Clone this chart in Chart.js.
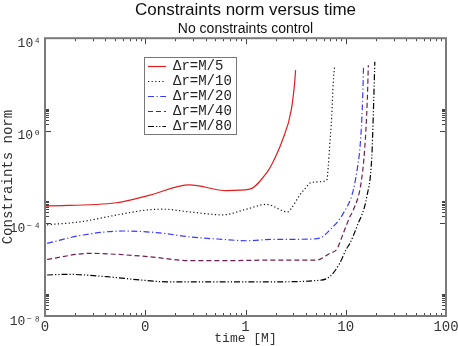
<!DOCTYPE html>
<html><head><meta charset="utf-8">
<script src="https://cdn.jsdelivr.net/npm/chart.js@4/dist/chart.umd.min.js"></script>
<style>html,body{margin:0;padding:0;background:#fff}#wrap{width:458px;height:346px}</style>
</head><body><div id="wrap"><canvas id="c" width="458" height="346"></canvas></div>
<script>
const seriesLabels = ['\u0394r=M/5','\u0394r=M/10','\u0394r=M/20','\u0394r=M/40','\u0394r=M/80'];

const tM5 = [0.0102, 0.0513, 0.111, 0.275, 0.646, 1.10, 1.62, 1.86, 2.34, 2.86, 3.09, 3.16];
const vM5 = [5.6e-4, 7.8e-4, 1.66e-3, 4.6e-3, 2.6e-3, 3.0e-3, 1.5e-2, 4.1e-2, 0.40, 7.8, 115, 417];

const tM10 = [0.0105, 0.0224, 0.0519, 0.1035, 0.151, 0.282, 0.596, 1.02, 1.62, 2.63, 2.87, 3.47, 4.07, 4.37, 5.50, 6.46, 6.70, 6.90, 7.24, 7.50, 7.76];
const vM10 = [8.7e-5, 1.17e-4, 2.3e-4, 3.8e-4, 4.1e-4, 3.1e-4, 2.34e-4, 4.1e-4, 6.6e-4, 3.16e-4, 4.5e-4, 1.66e-3, 3.8e-3, 5.5e-3, 6.3e-3, 7.4e-3, 0.03, 0.2, 4.0, 115, 676];

const tM20 = [0.0105, 0.024, 0.060, 0.130, 0.282, 0.596, 1.02, 1.88, 2.75, 4.37, 5.5, 6.92, 9.44, 11.9, 13.3, 13.8, 14.5, 14.9, 15.05];
const vM20 = [1.38e-5, 3.16e-5, 4.7e-5, 4.0e-5, 2.6e-5, 2.04e-5, 1.78e-5, 2.04e-5, 2.04e-5, 2.1e-5, 2.3e-5, 5.1e-5, 2.7e-4, 2.75e-3, 4.1e-2, 0.15, 4.0, 115, 676];

const tM40 = [0.0105, 0.0282, 0.052, 0.112, 0.282, 0.596, 1.88, 5.13, 6.92, 8.13, 9.44, 11.0, 11.9, 14.2, 15.5, 16.4, 16.8];
const vM40 = [2.8e-6, 5.1e-6, 4.6e-6, 3.6e-6, 2.45e-6, 2.45e-6, 2.6e-6, 2.6e-6, 5.1e-6, 7.6e-6, 3.7e-5, 1.95e-4, 3.8e-4, 5.4e-3, 0.2, 21, 676];

const tM80 = [0.0105, 0.0166, 0.0412, 0.089, 0.162, 0.407, 1.88, 5.13, 6.92, 8.71, 10.1, 11.0, 12.9, 16.2, 18.2, 18.8, 19.5];
const vM80 = [5.9e-7, 6.3e-7, 5.0e-7, 3.6e-7, 3.0e-7, 3.0e-7, 3.0e-7, 3.4e-7, 5.0e-7, 1.9e-6, 7.6e-6, 1.38e-5, 7.2e-5, 1.41e-3, 0.076, 4.0, 955];

const xTickValues = [0.01, 0.1, 1, 10, 100];
const xTickLabels = ['0', '0', '1', '10', '100'];
const yTickValues = [1e-8, 1e-4, 1, 1e4];
const yTickLabels = ['10\u207B\u2078', '10\u207B\u2074', '10\u2070', '10\u2074'];

const pts = (t, v) => t.map((x, i) => ({x: x, y: v[i]}));
const MONO = "'Liberation Mono', 'DejaVu Sans Mono', monospace";
const SANS = "'Liberation Sans', Arial, sans-serif";

const styles = [
  {c: 'rgb(225,30,30)', d: []},
  {c: '#111', d: [1.2, 2.4]},
  {c: '#3a3aff', d: [6, 2.5, 1.2, 2.5]},
  {c: '#6e1e52', d: [5, 3]},
  {c: '#000', d: [6, 2, 1.2, 2, 1.2, 2]}
];
const allT = [tM5, tM10, tM20, tM40, tM80];
const allV = [vM5, vM10, vM20, vM40, vM80];

const datasets = seriesLabels.map((lab, i) => ({
  label: lab,
  data: pts(allT[i], allV[i]),
  borderColor: styles[i].c,
  borderDash: styles[i].d,
  borderWidth: 1.2,
  pointRadius: 0,
  fill: false,
  cubicInterpolationMode: 'monotone'
}));

const framePlugin = {
  id: 'frame',
  afterDatasetsDraw(chart) {
    const {ctx, chartArea: a, scales: {x, y}} = chart;
    ctx.save();
    ctx.strokeStyle = '#444';
    ctx.lineWidth = 1;
    ctx.setLineDash([]);
    for (let d = -2; d <= 2; d++) {
      for (let m = 1; m <= 9; m++) {
        const v = m * Math.pow(10, d);
        if (v > 100.0001) break;
        const px = Math.round(x.getPixelForValue(v)) + 0.5;
        const len = m === 1 ? 6 : 3;
        ctx.beginPath();
        ctx.moveTo(px, a.bottom); ctx.lineTo(px, a.bottom - len);
        ctx.moveTo(px, a.top); ctx.lineTo(px, a.top + len);
        ctx.stroke();
      }
    }
    yTickValues.forEach((base) => {
      for (let m = 1; m <= 9; m++) {
        const v = m * base;
        if (v > 1e4 * 1.0001) break;
        const py = Math.round(y.getPixelForValue(v)) + 0.5;
        const len = m === 1 ? 6 : 4;
        ctx.beginPath();
        ctx.moveTo(a.left, py); ctx.lineTo(a.left + len, py);
        ctx.moveTo(a.right, py); ctx.lineTo(a.right - len, py);
        ctx.stroke();
      }
    });
    ctx.strokeStyle = '#7a7a7a';
    ctx.lineWidth = 2;
    ctx.strokeRect(a.left, a.top, a.right - a.left, a.bottom - a.top);
    const bx = 144, by = 57, bw = 92, bh = 77;
    ctx.fillStyle = '#fff';
    ctx.fillRect(bx, by, bw, bh);
    ctx.strokeStyle = '#777';
    ctx.lineWidth = 1;
    ctx.strokeRect(bx + 0.5, by + 0.5, bw, bh);
    ctx.font = '14px ' + MONO;
    ctx.textBaseline = 'middle';
    ctx.textAlign = 'left';
    chart.data.datasets.forEach((ds, i) => {
      const yy = by + 9 + i * 15;
      ctx.strokeStyle = ds.borderColor;
      ctx.lineWidth = 1.2;
      ctx.setLineDash(ds.borderDash);
      ctx.beginPath();
      ctx.moveTo(bx + 4, yy + 0.5); ctx.lineTo(bx + 22, yy + 0.5);
      ctx.stroke();
      ctx.setLineDash([]);
      ctx.fillStyle = '#222';
      ctx.fillText(ds.label, bx + 29, yy);
    });
    ctx.restore();
  }
};

new Chart(document.getElementById('c'), {
  type: 'line',
  data: {datasets},
  plugins: [framePlugin],
  options: {
    responsive: false,
    devicePixelRatio: 1,
    animation: false,
    layout: {padding: {left: 0, right: 12, top: 0, bottom: 0}},
    plugins: {
      legend: {display: false},
      tooltip: {enabled: false},
      title: {
        display: true,
        fullSize: false,
        text: 'Constraints norm versus time',
        color: '#111',
        font: {family: SANS, size: 17, weight: 'normal', lineHeight: 1.2},
        padding: {top: 0, bottom: 0}
      },
      subtitle: {
        display: true,
        fullSize: false,
        text: 'No constraints control',
        color: '#111',
        font: {family: SANS, size: 14, weight: 'normal', lineHeight: 1.2},
        padding: {top: 0, bottom: 1}
      }
    },
    scales: {
      x: {
        type: 'logarithmic',
        min: 0.01, max: 100,
        afterBuildTicks: s => { s.ticks = xTickValues.map(v => ({value: v})); },
        afterFit: s => { s.height = 30; s.paddingRight = 12; s.paddingLeft = 0; },
        ticks: {
          autoSkip: false, maxRotation: 0,
          color: '#333',
          font: {family: MONO, size: 14},
          padding: 3,
          callback: (val, idx) => xTickLabels[idx]
        },
        grid: {display: false, drawTicks: false},
        border: {display: false},
        title: {
          display: true, text: 'time [M]', color: '#333',
          font: {family: MONO, size: 13}, padding: {top: 0, bottom: 0}
        }
      },
      y: {
        type: 'logarithmic',
        min: 1e-8, max: 1e4,
        afterBuildTicks: s => { s.ticks = yTickValues.map(v => ({value: v})); },
        afterFit: s => { s.width = 45; },
        ticks: {
          autoSkip: false,
          color: '#333',
          font: {family: MONO, size: 13, lineHeight: 0.8},
          padding: 4,
          callback: (val, idx) => ['', yTickLabels[idx]]
        },
        grid: {display: false, drawTicks: false},
        border: {display: false},
        title: {
          display: true, text: 'Constraints norm', color: '#333',
          font: {family: MONO, size: 14}, padding: {top: 0, bottom: 0}
        }
      }
    }
  }
});
</script></body></html>
